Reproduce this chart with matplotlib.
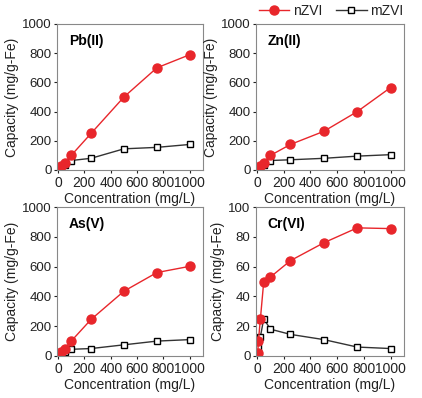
import matplotlib
matplotlib.use("Agg")
import matplotlib.pyplot as plt
from matplotlib.lines import Line2D

plt.rcParams['font.family'] = ['Liberation Sans', 'DejaVu Sans']
plt.rcParams['font.size'] = 10

# data
conc = [5, 10, 25, 50, 100, 250, 500, 750, 1000]
titles = ["Pb(II)", "Zn(II)", "As(V)", "Cr(VI)"]
nzvi = [
    [5, 12, 28, 50, 100, 250, 500, 700, 790],
    [5, 12, 28, 50, 100, 175, 265, 400, 565],
    [5, 10, 25, 50, 100, 245, 435, 560, 602],
    [2, 10, 25, 50, 53, 64, 76, 86, 85.5],
]
mzvi = [
    [4, 8, 18, 35, 65, 80, 145, 155, 175],
    [4, 8, 18, 35, 65, 70, 80, 95, 105],
    [3, 7, 15, 30, 45, 50, 75, 100, 110],
    [2, 6, 13, 25, 18, 14.5, 11, 6, 5],
]
ymax = [1000, 1000, 1000, 100]
yticks = [
    [0, 200, 400, 600, 800, 1000],
    [0, 200, 400, 600, 800, 1000],
    [0, 200, 400, 600, 800, 1000],
    [0, 20, 40, 60, 80, 100],
]

red = "#e8262b"
dark = "#333333"

fig = plt.figure(figsize=(4.22, 3.98), dpi=100)
boxes = [
    [57 / 422, 1 - 170 / 398, 146 / 422, 146 / 398],
    [256 / 422, 1 - 170 / 398, 148 / 422, 146 / 398],
    [57 / 422, 1 - 356 / 398, 146 / 422, 149 / 398],
    [256 / 422, 1 - 356 / 398, 148 / 422, 149 / 398],
]

for i in range(4):
    ax = fig.add_axes(boxes[i])
    ax.plot(conc, mzvi[i], "s-", color=dark, markerfacecolor="white",
            markeredgecolor="black", markersize=4.5, markeredgewidth=1, linewidth=1)
    ax.plot(conc, nzvi[i], "o-", color=red, markersize=6.5, linewidth=1)
    ax.set_xlim(-8, 1100)
    ax.set_ylim(0, ymax[i])
    ax.set_xticks([0, 200, 400, 600, 800, 1000])
    ax.set_yticks(yticks[i])
    ax.tick_params(direction="out", length=2.5, width=0.8, pad=1.5, colors="#222222")
    ax.tick_params(axis="x", labelsize=10)
    ax.tick_params(axis="y", labelsize=9.5)
    for s in ax.spines.values():
        s.set_color("#888888")
    ax.text(0.08, 0.885, titles[i], transform=ax.transAxes, fontweight="bold",
            fontsize=10, va="center")
    ax.set_ylabel("Capacity (mg/g-Fe)", labelpad=2, color="#222222")
    ax.set_xlabel("Concentration (mg/L)", labelpad=1.5, color="#222222")

handles = [
    Line2D([], [], color=red, marker="o", markersize=6.5, linewidth=1),
    Line2D([], [], color=dark, marker="s", markerfacecolor="white",
           markeredgecolor="black", markersize=4.5, linewidth=1),
]
fig.legend(handles, ["nZVI", "mZVI"], loc="center", bbox_to_anchor=(331 / 422, 1 - 11 / 398),
           ncol=2, frameon=False, handlelength=2.2, columnspacing=1.0, handletextpad=0.25,
           fontsize=10, borderpad=0, labelcolor="#222222")

fig.savefig("out.png", dpi=100)
